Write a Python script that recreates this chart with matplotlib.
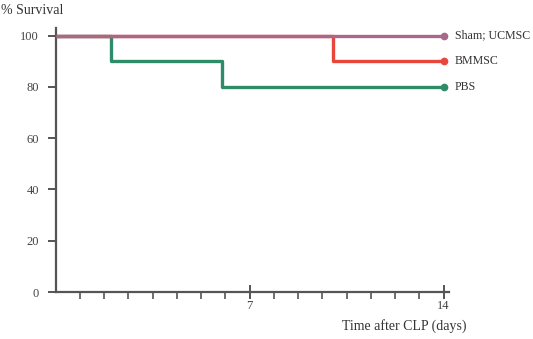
import numpy as np
import matplotlib
matplotlib.use("Agg")
import matplotlib.pyplot as plt

# survival curves (time in days, % survival)
groups = ["PBS", "BMMSC", "Sham; UCMSC"]
pbs_time = [0, 2, 6, 14]
pbs_surv = [100, 90, 80, 80]
bm_time = [0, 10, 14]
bm_surv = [100, 90, 90]
sham_time = [0, 14]
sham_surv = [100, 100]
colors = ["#2f8c68", "#e8463a", "#a8688a"]

yticks = [0, 20, 40, 60, 80, 100]
xticks = [7, 14]

plt.rcParams["font.family"] = ["Liberation Serif", "DejaVu Serif"]

fig = plt.figure(figsize=(5.33, 3.39), dpi=100)
ax = fig.add_axes([0.1045, 0.1386, 0.738, 0.779])

# sham drawn last so it sits on top at 100%
series = [(pbs_time, pbs_surv), (bm_time, bm_surv), (sham_time, sham_surv)]
for (t, s), c, name in zip(series, colors, groups):
    ax.step(t, s, where="post", color=c, lw=2.4, clip_on=False, zorder=3,
            solid_capstyle="butt")
    ax.plot(t[-1], s[-1], "o", color=c, ms=4.5, clip_on=False, zorder=4)
    ax.annotate(name, xy=(t[-1], s[-1]), xytext=(8, 0),
                textcoords="offset points", va="center", ha="left",
                fontsize=8.6, color="#333333", annotation_clip=False)

ax.set_xlim(0, 14.2)
ax.set_ylim(0, 103)

for side in ["top", "right"]:
    ax.spines[side].set_visible(False)
for side in ["left", "bottom"]:
    ax.spines[side].set_color("#555555")
    ax.spines[side].set_linewidth(1.6)

ax.set_yticks(yticks)
ax.set_xticks(xticks)
ax.set_xticks(np.arange(0, 14.01, 14 / 16)[1:], minor=True)
ax.tick_params(axis="y", direction="out", length=6, width=1.4,
               color="#555555", labelsize=9, labelcolor="#444444", pad=6)
ax.tick_params(axis="x", which="major", direction="inout", length=10,
               width=1.4, color="#555555", labelsize=9,
               labelcolor="#444444", pad=1)
ax.tick_params(axis="x", which="minor", direction="out", length=5,
               width=1.2, color="#555555")

fig.text(0.002, 0.97, "% Survival", fontsize=10, color="#333333",
         ha="left", va="center")
fig.text(0.876, 0.038, "Time after CLP (days)", fontsize=10,
         color="#333333", ha="right", va="center")

fig.savefig("out.png", dpi=100)
